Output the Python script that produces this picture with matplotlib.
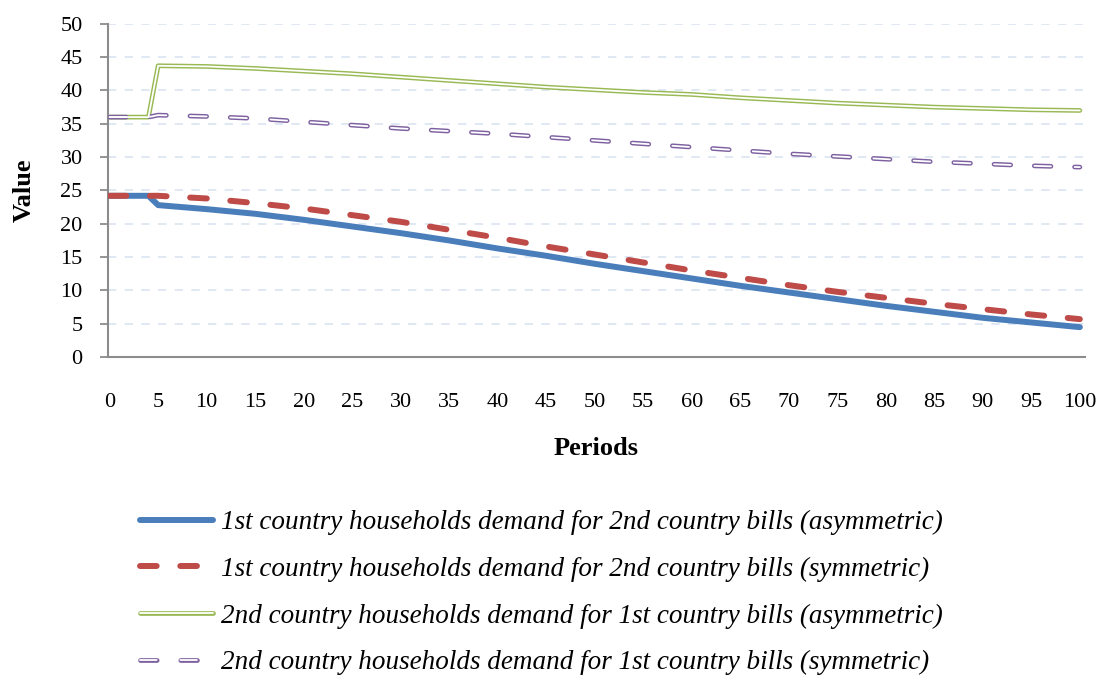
import matplotlib
matplotlib.use("Agg")
import matplotlib.pyplot as plt
from matplotlib.lines import Line2D
from matplotlib.legend_handler import HandlerBase

plt.rcParams['lines.scale_dashes'] = False

periods = [0, 1, 2, 3, 4, 5, 10, 15, 20, 25, 30, 35, 40, 45, 50, 55, 60, 65, 70, 75, 80, 85, 90, 95, 100]
blue_asym_1st = [24.2, 24.2, 24.2, 24.2, 24.2, 22.8, 22.2, 21.5, 20.6, 19.6, 18.6, 17.5, 16.3, 15.2, 14.0,
                 12.9, 11.8, 10.7, 9.7, 8.7, 7.7, 6.8, 5.9, 5.2, 4.5]
red_sym_1st = [24.2, 24.2, 24.2, 24.2, 24.2, 24.2, 23.8, 23.1, 22.3, 21.3, 20.3, 19.1, 17.9, 16.6, 15.4,
               14.2, 13.0, 11.9, 10.8, 9.8, 8.9, 8.0, 7.2, 6.4, 5.7]
green_asym_2nd = [36.0, 36.0, 36.0, 36.0, 36.0, 43.7, 43.6, 43.3, 42.9, 42.5, 42.0, 41.5, 41.0, 40.5, 40.1,
                  39.7, 39.4, 38.9, 38.5, 38.1, 37.8, 37.5, 37.3, 37.1, 37.0]
purple_sym_2nd = [36.0, 36.0, 36.0, 36.0, 36.0, 36.3, 36.1, 35.8, 35.3, 34.8, 34.3, 33.9, 33.5, 33.0, 32.5,
                  32.0, 31.5, 31.0, 30.5, 30.1, 29.7, 29.3, 29.0, 28.7, 28.5]

x_ticks = list(range(0, 101, 5))
y_ticks = list(range(0, 51, 5))
labels = ["1st country households demand for 2nd country bills (asymmetric)",
          "1st country households demand for 2nd country bills (symmetric)",
          "2nd country households demand for 1st country bills (asymmetric)",
          "2nd country households demand for 1st country bills (symmetric)"]

BLUE = "#4a7ebb"
RED = "#be4b48"
GREEN = "#98b954"
PURPLE = "#7d60a0"

fig = plt.figure(figsize=(10.99, 6.79), dpi=100)
ax = fig.add_axes([0.098, 0.474, 0.889, 0.491])

ax.set_xlim(-0.2, 100.5)
ax.set_ylim(0, 50)

ax.set_yticks(y_ticks)
ax.set_xticks(x_ticks)
for y in y_ticks[1:]:
    ax.axhline(y, color="#dce6f2", lw=1.3, ls=(0, (6, 6)), zorder=0)

DASH = (0, (12, 17))
OUT_LW = 3.4
IN_LW = 1.3

ax.plot(periods, blue_asym_1st, color=BLUE, lw=4.3, solid_capstyle='round', solid_joinstyle='round', zorder=3)
ax.plot(periods, red_sym_1st, color=RED, lw=4.3, ls=DASH, dash_capstyle='round', zorder=4)
ax.plot(periods, green_asym_2nd, color=GREEN, lw=OUT_LW, solid_capstyle='round', zorder=3)
ax.plot(periods, green_asym_2nd, color="white", lw=IN_LW, solid_capstyle='round', zorder=3.1)
ax.plot(periods, purple_sym_2nd, color=PURPLE, lw=OUT_LW, ls=DASH, dash_capstyle='round', zorder=3)
ax.plot(periods, purple_sym_2nd, color="white", lw=IN_LW, ls=DASH, dash_capstyle='round', zorder=3.1)

for s in ['top', 'right']:
    ax.spines[s].set_visible(False)
for s in ['left', 'bottom']:
    ax.spines[s].set_color("#8c8c8c")
    ax.spines[s].set_linewidth(1.5)

tick_font = dict(family="Liberation Serif", size=16)
ax.tick_params(axis='y', direction='out', length=6, width=1.3, color="#8c8c8c", pad=12)
ax.tick_params(axis='x', length=0, pad=26)
ax.set_yticklabels([str(v) for v in y_ticks], fontdict=tick_font)
ax.set_xticklabels([str(v) for v in x_ticks], fontdict=tick_font)

ax.set_ylabel("Value", family="Liberation Serif", fontweight="bold", fontsize=19, labelpad=18)
ax.set_xlabel("Periods", family="Liberation Serif", fontweight="bold", fontsize=19, labelpad=18)


class DoubleHandler(HandlerBase):
    def __init__(self, color, dashed):
        super().__init__()
        self.color = color
        self.dashed = dashed

    def create_artists(self, legend, orig_handle, xdescent, ydescent, width, height, fontsize, trans):
        y = height / 2 - ydescent
        ls = DASH if self.dashed else '-'
        kw = dict(solid_capstyle='round', dash_capstyle='round')
        l1 = Line2D([0 - xdescent, width - xdescent], [y, y], color=self.color, lw=OUT_LW, ls=ls, transform=trans, **kw)
        l2 = Line2D([0 - xdescent, width - xdescent], [y, y], color="white", lw=IN_LW, ls=ls, transform=trans, **kw)
        return [l1, l2]


class H3: pass
class H4: pass

h1 = Line2D([], [], color=BLUE, lw=4.3, solid_capstyle='round')
h2 = Line2D([], [], color=RED, lw=4.3, ls=DASH, dash_capstyle='round')
hh3, hh4 = H3(), H4()

leg = fig.legend([h1, h2, hh3, hh4], labels,
                 handler_map={H3: DoubleHandler(GREEN, False), H4: DoubleHandler(PURPLE, True)},
                 loc='upper left', bbox_to_anchor=(0.1274, 0.249), frameon=False,
                 prop=dict(family="Liberation Serif", style="italic", size=19.5),
                 handlelength=2.7, handletextpad=0.3, labelspacing=0.8, borderaxespad=0, borderpad=0)

fig.savefig("out.png", dpi=100)
